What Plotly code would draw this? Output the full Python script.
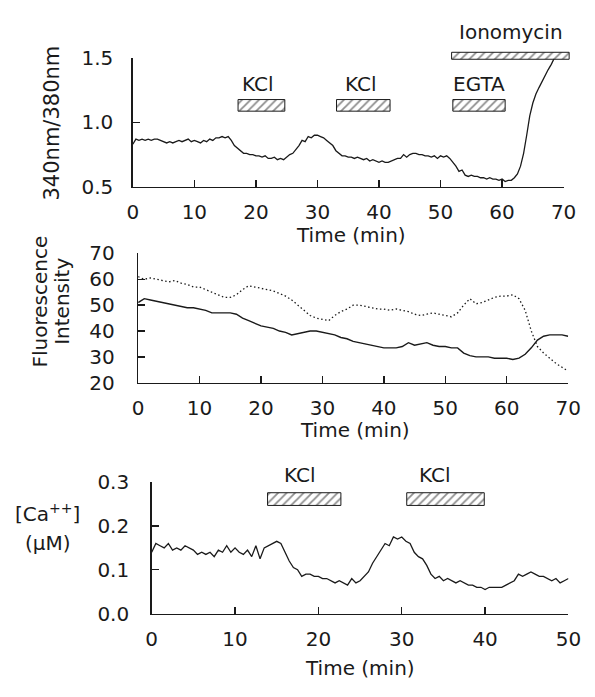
import plotly.graph_objects as go

# ---------------- data ----------------
# Panel A: 340/380 ratio, t = 0 .. 68.5 step 0.5
ratio_t = [i * 0.5 for i in range(138)]
ratio_v = [0.83, 0.87, 0.86, 0.87, 0.86, 0.87, 0.86, 0.87, 0.87, 0.86,
           0.85, 0.84, 0.85, 0.84, 0.85, 0.86, 0.85, 0.86, 0.87, 0.85,
           0.86, 0.85, 0.84, 0.86, 0.85, 0.87, 0.86, 0.88, 0.88, 0.89,
           0.88, 0.89, 0.86, 0.82, 0.80, 0.78, 0.76, 0.76, 0.75, 0.75,
           0.74, 0.74, 0.73, 0.74, 0.72, 0.72, 0.73, 0.71, 0.72, 0.71,
           0.73, 0.75, 0.76, 0.79, 0.82, 0.86, 0.85, 0.89, 0.88, 0.90,
           0.90, 0.89, 0.88, 0.86, 0.84, 0.82, 0.78, 0.76, 0.74, 0.74,
           0.73, 0.73, 0.72, 0.73, 0.72, 0.71, 0.72, 0.70, 0.71, 0.70,
           0.69, 0.70, 0.69, 0.69, 0.70, 0.71, 0.72, 0.72, 0.75, 0.73,
           0.75, 0.76, 0.76, 0.75, 0.75, 0.74, 0.74, 0.73, 0.74, 0.72,
           0.74, 0.73, 0.74, 0.72, 0.69, 0.66, 0.62, 0.63, 0.59, 0.58,
           0.59, 0.58, 0.58, 0.57, 0.57, 0.56, 0.57, 0.56, 0.56, 0.55,
           0.56, 0.54, 0.55, 0.55, 0.57, 0.60, 0.66, 0.76, 0.90, 1.05,
           1.15, 1.22, 1.27, 1.32, 1.36, 1.41, 1.45, 1.50]

# Panel B: fluorescence intensities, t = 0 .. 70 step 1
fluo_t = list(range(71))
fluo_380 = [51, 52.5, 52, 51.5, 51, 50.5, 50, 49.5, 49, 49,
            48.5, 48, 47, 47, 47, 47, 46.5, 45, 44, 43,
            42, 41.5, 41, 40, 39.5, 38.5, 39, 39.5, 40, 40,
            39.5, 39, 38.5, 37.5, 37, 36, 35.5, 35, 34.5, 34,
            33.5, 33.5, 33.5, 34, 35.5, 34.5, 35, 35.5, 34.5, 34,
            34, 33.5, 33.5, 31.5, 30.5, 30, 30, 30, 29.5, 29.5,
            29.5, 29, 29.5, 31, 33.5, 36.5, 38, 38.5, 38.5, 38.5, 38]
fluo_340 = [61, 60, 60.5, 60, 59.5, 59, 59.5, 58.5, 58, 57,
            57, 56, 55, 54, 53, 53, 54, 56, 57.5, 57,
            56.5, 56, 55.5, 54.5, 53.5, 52, 50, 48, 46, 45,
            44.5, 44, 46, 47.5, 48.5, 50, 50, 49.5, 49, 48.5,
            48.5, 48, 48.5, 48, 47.5, 46.5, 46, 46.5, 47, 46.5,
            46, 45.5, 47, 50, 52.5, 50.5, 51, 52, 53, 53.5,
            53.5, 54, 52.5, 48, 40, 34, 31.5, 29.5, 27.5, 26, 24.5]

# Panel C: [Ca++] (uM), t = 0 .. 50 step 0.5
ca_t = [i * 0.5 for i in range(101)]
ca_v = [0.140, 0.160, 0.155, 0.150, 0.160, 0.145, 0.150, 0.145, 0.155, 0.150,
        0.145, 0.135, 0.140, 0.135, 0.140, 0.130, 0.145, 0.140, 0.155, 0.140,
        0.150, 0.140, 0.135, 0.145, 0.130, 0.155, 0.125, 0.150, 0.155, 0.160,
        0.165, 0.160, 0.140, 0.120, 0.105, 0.100, 0.085, 0.090, 0.090, 0.085,
        0.085, 0.080, 0.080, 0.075, 0.070, 0.075, 0.070, 0.065, 0.080, 0.070,
        0.075, 0.085, 0.095, 0.115, 0.130, 0.145, 0.160, 0.155, 0.175, 0.170,
        0.175, 0.165, 0.160, 0.140, 0.130, 0.125, 0.110, 0.090, 0.080, 0.085,
        0.075, 0.080, 0.075, 0.070, 0.075, 0.070, 0.065, 0.065, 0.060, 0.060,
        0.055, 0.060, 0.060, 0.060, 0.060, 0.065, 0.070, 0.075, 0.090, 0.085,
        0.090, 0.095, 0.090, 0.085, 0.085, 0.080, 0.075, 0.080, 0.070, 0.075,
        0.080]

# treatment bars: label, start, end, y_low, y_high (in panel data units)
a_bar_labels = ["KCl", "KCl", "EGTA", "Ionomycin"]
a_bar_start = [17.1, 33.1, 52.0, 51.8]
a_bar_end = [24.7, 41.8, 60.5, 70.9]
a_bar_lo = [1.087, 1.087, 1.087, 1.49]
a_bar_hi = [1.177, 1.177, 1.177, 1.544]
a_label_x = [20.4, 37.0, 56.3, 61.4]
a_label_y = [1.30, 1.30, 1.30, 1.70]

c_bar_labels = ["KCl", "KCl"]
c_bar_start = [13.9, 30.6]
c_bar_end = [22.7, 39.9]
c_bar_lo = [0.247, 0.247]
c_bar_hi = [0.276, 0.276]
c_label_x = [17.8, 34.0]
c_label_y = [0.316, 0.316]

# ---------------- figure ----------------
W, H = 595, 697
FONT = "DejaVu Sans"
INK = "#1a1a1a"


def px_x(p):
    return min(1.0, max(0.0, p / W))


def px_y(p):
    return min(1.0, max(0.0, 1 - p / H))


# panel geometry in page pixels: (left, right, bottom, top) and data ranges
A_L, A_R, A_B, A_T = 131, 576, 181, 47.6
A_XR, A_YR = (0, 70), (0.5, 1.5)
B_L, B_R, B_B, B_T = 136.5, 580.7, 384, 250
B_XR, B_YR = (0, 70), (20, 70)
C_L, C_R, C_B, C_T = 150.5, 581, 623, 487
C_XR, C_YR = (0, 50), (0, 0.3)


def ext_range(lo_px, hi_px, new_hi_px, rng):
    # extend a data range so that it reaches new_hi_px with the same scale
    scale = (rng[1] - rng[0]) / (hi_px - lo_px)
    return [rng[0], rng[0] + (new_hi_px - lo_px) * scale]


fig = go.Figure()

fig.add_trace(go.Scatter(x=ratio_t, y=ratio_v, mode="lines",
                         line=dict(color=INK, width=1.3), xaxis="x", yaxis="y",
                         showlegend=False, hoverinfo="skip"))
fig.add_trace(go.Scatter(x=fluo_t, y=fluo_340, mode="lines",
                         line=dict(color=INK, width=1.3, dash="1.5px,2.5px"),
                         xaxis="x2", yaxis="y2", showlegend=False, hoverinfo="skip"))
fig.add_trace(go.Scatter(x=fluo_t, y=fluo_380, mode="lines",
                         line=dict(color=INK, width=1.4), xaxis="x2", yaxis="y2",
                         showlegend=False, hoverinfo="skip"))
fig.add_trace(go.Scatter(x=ca_t, y=ca_v, mode="lines",
                         line=dict(color=INK, width=1.3), xaxis="x3", yaxis="y3",
                         showlegend=False, hoverinfo="skip"))


def add_bars(starts, ends, los, his, xa, ya):
    for s, e, lo, hi in zip(starts, ends, los, his):
        fig.add_trace(go.Bar(
            x=[e - s], base=[s], y=[(lo + hi) / 2], width=[hi - lo],
            orientation="h", xaxis=xa, yaxis=ya,
            marker=dict(color="white", line=dict(color=INK, width=1),
                        pattern=dict(shape="/", fgcolor=INK, bgcolor="white",
                                     size=6, solidity=0.3)),
            showlegend=False, hoverinfo="skip"))


# overlay axes (x4/y4 for panel A, x5/y5 for panel C) share the panel scales
add_bars(a_bar_start, a_bar_end, a_bar_lo, a_bar_hi, "x4", "y4")
add_bars(c_bar_start, c_bar_end, c_bar_lo, c_bar_hi, "x5", "y5")

lfont = dict(size=20, color=INK, family=FONT)
tickfont = dict(size=20, color=INK, family=FONT)
tfont = dict(size=20, color=INK, family=FONT)
yfont = dict(size=21, color=INK, family=FONT)
annotations = []
for lab, xx, yy in zip(a_bar_labels, a_label_x, a_label_y):
    annotations.append(dict(text=lab, x=xx, y=yy, xref="x4", yref="y4",
                            xanchor="center", yanchor="middle",
                            showarrow=False, font=lfont))
for lab, xx, yy in zip(c_bar_labels, c_label_x, c_label_y):
    annotations.append(dict(text=lab, x=xx, y=yy, xref="x5", yref="y5",
                            xanchor="center", yanchor="middle",
                            showarrow=False, font=lfont))


def ptext(text, x, y, font, angle=0):
    return dict(text=text, x=px_x(x), y=px_y(y), xref="paper", yref="paper",
                xanchor="center", yanchor="middle", showarrow=False,
                textangle=angle, font=font)


annotations += [
    ptext("Time (min)", 356, 231, tfont),
    ptext("Time (min)", 360, 433, tfont),
    ptext("Time (min)", 366, 679, tfont),
    ptext("340nm/380nm", 48, 115, yfont, -90),
    ptext("Fluorescence", 35, 300, tfont, -90),
    ptext("Intensity", 58, 300, tfont, -90),
    ptext("[Ca<sup>++</sup>]", 43, 519, tfont),
    ptext("(\u03bcM)", 43, 550, tfont),
]


def xax(domain, rng, tv, anchor):
    return dict(domain=domain, range=list(rng), tickvals=tv, ticks="inside", ticklen=7,
                tickwidth=1.3, tickcolor=INK, showline=True, linecolor=INK, linewidth=1.5,
                showgrid=False, zeroline=False, tickfont=tickfont, ticklabelstandoff=7,
                ticklabeloverflow="allow", anchor=anchor)


def yax(domain, rng, tv, tt, anchor, standoff):
    return dict(domain=domain, range=list(rng), tickvals=tv, ticktext=tt, ticks="inside",
                ticklen=7, tickwidth=1.3, tickcolor=INK, showline=True, linecolor=INK,
                linewidth=1.5, showgrid=False, zeroline=False, tickfont=tickfont,
                ticklabeloverflow="allow", anchor=anchor, ticklabelstandoff=standoff)


def hidden(domain, rng, anchor):
    return dict(domain=domain, range=list(rng), visible=False, anchor=anchor,
                showgrid=False, zeroline=False, fixedrange=True)


A_XEXT, A_YTOP = 594, 2
C_XEXT, C_YTOP = 594, 462

fig.update_layout(
    width=W, height=H, margin=dict(l=0, r=0, t=0, b=0),
    paper_bgcolor="white", plot_bgcolor="rgba(0,0,0,0)", barmode="overlay",
    font=dict(family=FONT, color=INK),
    xaxis=xax([px_x(A_L), px_x(A_R)], A_XR, [0, 10, 20, 30, 40, 50, 60, 70], "y"),
    yaxis=yax([px_y(A_B), px_y(A_T)], A_YR, [0.5, 1.0, 1.5], ["0.5", "1.0", "1.5"], "x", 14),
    xaxis2=xax([px_x(B_L), px_x(B_R)], B_XR, [0, 10, 20, 30, 40, 50, 60, 70], "y2"),
    yaxis2=yax([px_y(B_B), px_y(B_T)], B_YR, [20, 30, 40, 50, 60, 70],
               ["20", "30", "40", "50", "60", "70"], "x2", 18),
    xaxis3=xax([px_x(C_L), px_x(C_R)], C_XR, [0, 10, 20, 30, 40, 50], "y3"),
    yaxis3=yax([px_y(C_B), px_y(C_T)], C_YR, [0, 0.1, 0.2, 0.3],
               ["0.0", "0.1", "0.2", "0.3"], "x3", 17),
    xaxis4=hidden([px_x(A_L), px_x(A_XEXT)], ext_range(A_L, A_R, A_XEXT, A_XR), "y4"),
    yaxis4=hidden([px_y(A_B), px_y(A_YTOP)],
                  ext_range(-A_B, -A_T, -A_YTOP, A_YR), "x4"),
    xaxis5=hidden([px_x(C_L), px_x(C_XEXT)], ext_range(C_L, C_R, C_XEXT, C_XR), "y5"),
    yaxis5=hidden([px_y(C_B), px_y(C_YTOP)],
                  ext_range(-C_B, -C_T, -C_YTOP, C_YR), "x5"),
    annotations=annotations,
)

# remove the default page margin so the 595x697 figure fills the window exactly
fig.write_html("out.html",
               config={"displayModeBar": False, "staticPlot": True},
               post_script="document.body.style.margin='0';"
                           "document.documentElement.style.overflow='hidden';")
